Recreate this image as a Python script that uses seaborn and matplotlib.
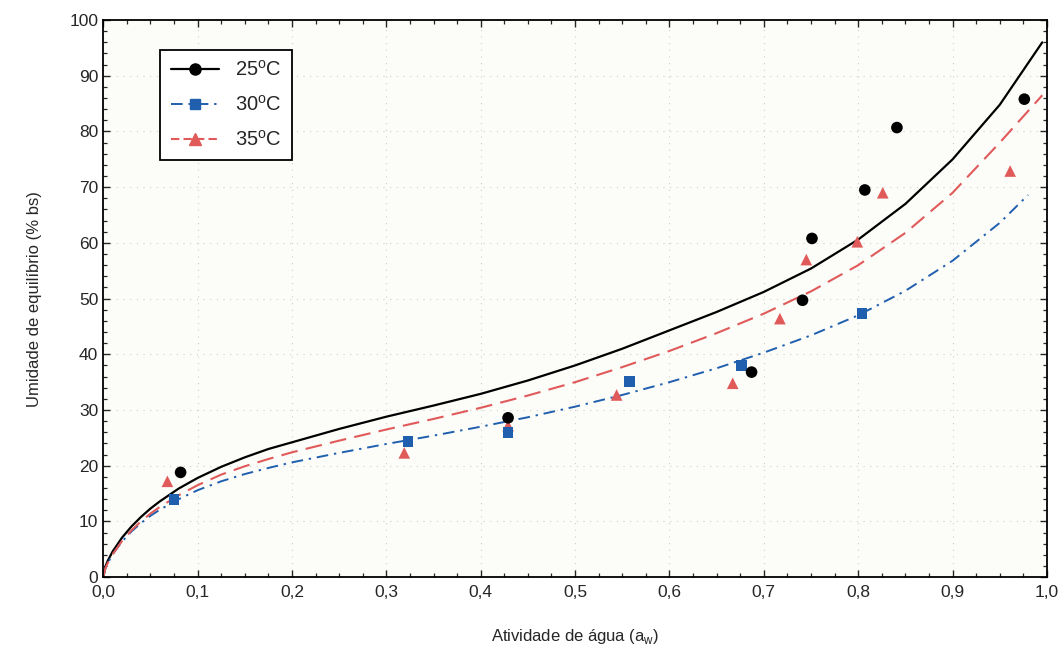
import matplotlib
matplotlib.use("Agg")
import matplotlib.pyplot as plt
from matplotlib.lines import Line2D
from matplotlib.ticker import MultipleLocator, FuncFormatter
import seaborn as sns

# experimental points (aw, moisture % bs)
aw_25 = [0.082, 0.429, 0.687, 0.741, 0.751, 0.807, 0.841, 0.976]
x_25 = [18.8, 28.6, 36.8, 49.7, 60.8, 69.5, 80.7, 85.8]
aw_30 = [0.075, 0.323, 0.429, 0.558, 0.676, 0.804]
x_30 = [14.0, 24.4, 26.0, 35.1, 38.0, 47.3]
aw_35 = [0.068, 0.319, 0.429, 0.544, 0.667, 0.717, 0.745, 0.799, 0.826, 0.961]
x_35 = [17.2, 22.3, 27.2, 32.7, 34.8, 46.4, 57.0, 60.2, 69.0, 72.9]

# fitted curves
cx_25 = [0, 0.0025, 0.005, 0.01, 0.02, 0.03, 0.04, 0.05, 0.06, 0.08, 0.1, 0.125,
         0.15, 0.175, 0.2, 0.25, 0.3, 0.35, 0.4, 0.45, 0.5, 0.55, 0.6, 0.65, 0.7,
         0.75, 0.8, 0.85, 0.9, 0.95, 0.995]
cy_25 = [0, 2.0, 3.0, 4.6, 7.1, 9.1, 10.8, 12.3, 13.6, 15.9, 17.8, 19.8,
         21.5, 23.0, 24.2, 26.6, 28.8, 30.8, 32.9, 35.3, 38.0, 41.0, 44.3, 47.6, 51.2,
         55.4, 60.6, 67.0, 75.0, 84.8, 96.0]
cx_35 = [0, 0.0025, 0.005, 0.01, 0.02, 0.03, 0.04, 0.05, 0.06, 0.08, 0.1, 0.125,
         0.15, 0.175, 0.2, 0.25, 0.3, 0.35, 0.4, 0.45, 0.5, 0.55, 0.6, 0.65, 0.7,
         0.75, 0.8, 0.85, 0.9, 0.95, 0.995]
cy_35 = [0, 1.7, 2.6, 4.1, 6.5, 8.4, 10.0, 11.4, 12.6, 14.7, 16.5, 18.4,
         19.9, 21.2, 22.4, 24.5, 26.5, 28.4, 30.4, 32.6, 35.0, 37.7, 40.6, 43.8, 47.3,
         51.3, 56.0, 61.8, 69.0, 78.0, 86.5]
cx_30 = [0, 0.0025, 0.005, 0.01, 0.02, 0.03, 0.04, 0.05, 0.06, 0.08, 0.1, 0.125,
         0.15, 0.175, 0.2, 0.25, 0.3, 0.35, 0.4, 0.45, 0.5, 0.55, 0.6, 0.65, 0.7,
         0.75, 0.8, 0.85, 0.9, 0.95, 0.98]
cy_30 = [0, 1.7, 2.6, 4.1, 6.4, 8.2, 9.7, 11.0, 12.1, 14.0, 15.6, 17.2,
         18.5, 19.6, 20.6, 22.3, 23.9, 25.4, 27.0, 28.7, 30.6, 32.7, 35.0, 37.5, 40.3,
         43.4, 47.0, 51.4, 56.8, 63.6, 68.6]

labels = ["25$^{\\mathrm{o}}$C", "30$^{\\mathrm{o}}$C", "35$^{\\mathrm{o}}$C"]
colors = ["black", "#1f5fae", "#e05a5a"]
dash_30 = (0, (6, 3, 1.2, 3))
dash_35 = (0, (8, 4))

sns.set_style("ticks")
plt.rcParams['font.family'] = ['Liberation Sans', 'DejaVu Sans']
plt.rcParams['mathtext.fontset'] = 'custom'
plt.rcParams['mathtext.rm'] = 'Liberation Sans'

fig, ax = plt.subplots(figsize=(10.64, 6.47), dpi=100)
fig.subplots_adjust(left=0.097, right=0.984, top=0.969, bottom=0.108)
ax.set_facecolor("#fcfcf9")

# curves
sns.lineplot(x=cx_25, y=cy_25, color=colors[0], lw=1.6, ax=ax, sort=False)
sns.lineplot(x=cx_30, y=cy_30, color=colors[1], lw=1.4, ax=ax, sort=False,
             linestyle=dash_30)
sns.lineplot(x=cx_35, y=cy_35, color=colors[2], lw=1.5, ax=ax, sort=False,
             linestyle=dash_35)

# points
sns.scatterplot(x=aw_25, y=x_25, color=colors[0], marker="o", s=70, ax=ax,
                edgecolor="none", zorder=4)
sns.scatterplot(x=aw_35, y=x_35, color=colors[2], marker="^", s=70, ax=ax,
                edgecolor="none", zorder=3)
sns.scatterplot(x=aw_30, y=x_30, color=colors[1], marker="s", s=60, ax=ax,
                edgecolor="none", zorder=3)

ax.set_xlim(0, 1.0)
ax.set_ylim(0, 100)
ax.xaxis.set_major_locator(MultipleLocator(0.1))
ax.xaxis.set_minor_locator(MultipleLocator(0.025))
ax.yaxis.set_major_locator(MultipleLocator(10))
ax.yaxis.set_minor_locator(MultipleLocator(2))
ax.xaxis.set_major_formatter(FuncFormatter(lambda v, p: f"{v:.1f}".replace(".", ",")))
ax.tick_params(which="both", direction="in", top=True, right=True, labelsize=12.5)
ax.tick_params(which="major", length=5, width=1)
ax.tick_params(which="minor", length=3, width=0.9)
ax.tick_params(axis="x", pad=6)
for sp in ax.spines.values():
    sp.set_visible(True)
    sp.set_linewidth(1.3)
    sp.set_color("black")
ax.grid(True, which="major", color="#d0d0c8", linestyle=(0, (1, 5)), lw=0.8)

ax.set_xlabel("Atividade de água (a$_{\\mathrm{w}}$)", fontsize=12, labelpad=19)
ax.set_ylabel("Umidade de equilíbrio (% bs)", fontsize=12, labelpad=20)

handles = [
    Line2D([], [], color=colors[0], lw=1.6, marker="o", markersize=8),
    Line2D([], [], color=colors[1], lw=1.4, linestyle=dash_30,
           marker="s", markersize=7),
    Line2D([], [], color=colors[2], lw=1.5, linestyle=(0, (4, 2)),
           marker="^", markersize=8),
]
leg = ax.legend(handles, labels, loc="upper left", bbox_to_anchor=(0.05, 0.965),
                fontsize=14.5, frameon=True, fancybox=False, edgecolor="black",
                handlelength=2.4, borderpad=0.5, labelspacing=0.75)
leg.get_frame().set_linewidth(1.3)
leg.get_frame().set_facecolor("white")
leg.get_frame().set_alpha(1)

fig.savefig("out.png", dpi=100)
